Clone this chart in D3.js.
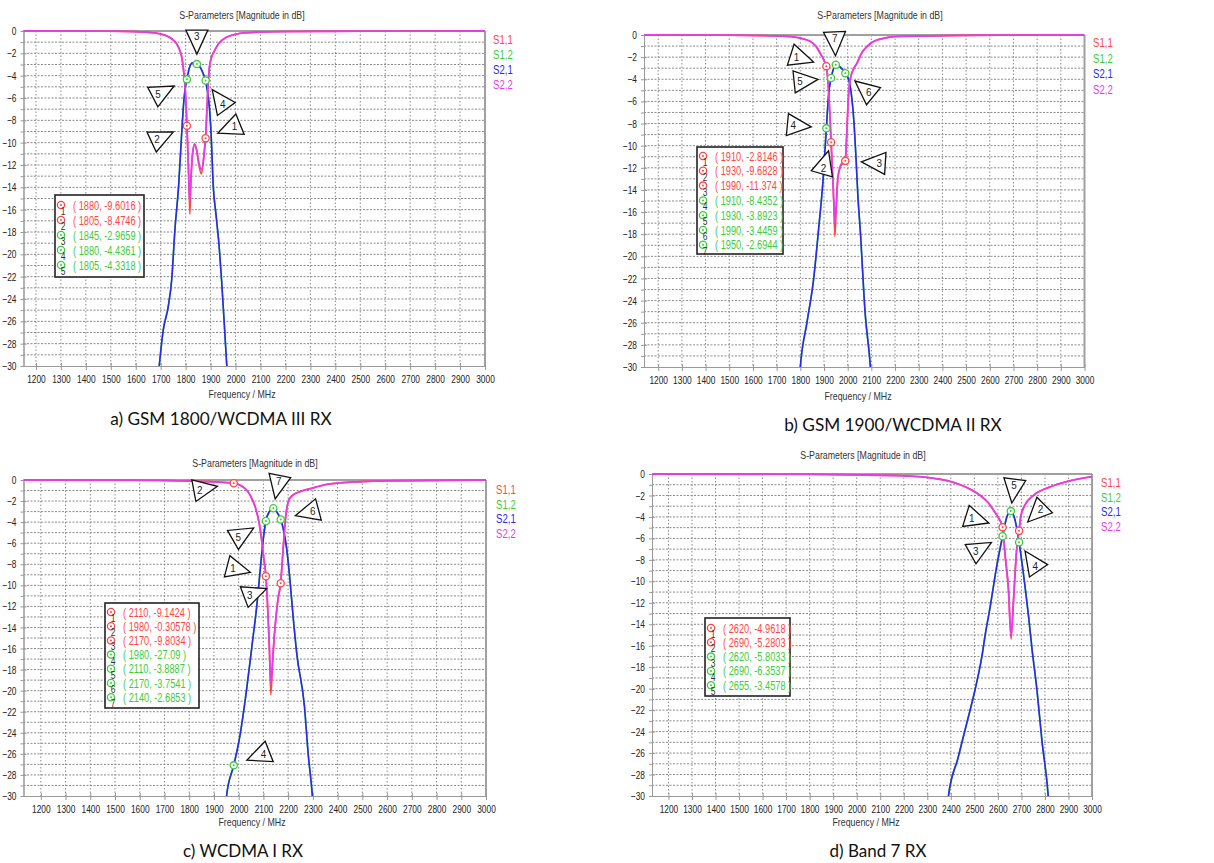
<!DOCTYPE html>
<html>
<head>
<meta charset="utf-8">
<script src="https://cdn.jsdelivr.net/npm/d3@7"></script>
<style>
  body { margin: 0; background: #fff; }
</style>
</head>
<body>
<div id="chart"></div>
<script>
const WIDTH = 1214;
const HEIGHT = 863;

// ---- shared axes / series
const xTickValues = [1200, 1300, 1400, 1500, 1600, 1700, 1800, 1900, 2000, 2100, 2200, 2300, 2400, 2500, 2600, 2700, 2800, 2900, 3000];
const yTickValues = [0, -2, -4, -6, -8, -10, -12, -14, -16, -18, -20, -22, -24, -26, -28, -30];
const seriesNames = ['S1,1', 'S1,2', 'S2,1', 'S2,2'];
const seriesColors = ['#ff4646', '#3ccc3c', '#2828f0', '#e63ce6'];
const captions = ['a) GSM 1800/WCDMA III RX', 'b) GSM 1900/WCDMA II RX', 'c) WCDMA I RX', 'd) Band 7 RX'];

// ---- a) GSM 1800/WCDMA III RX  [MHz, dB]
const aS21 = [[1640, -45], [1694, -30], [1710, -26.8], [1730, -24.7], [1744, -22.3], [1757, -17.8], [1772, -13.8], [1784, -9.2], [1793, -6.2], [1800, -4.9], [1805, -4.33], [1815, -3.3], [1828, -2.85], [1845, -2.97], [1860, -3.3], [1870, -3.8], [1880, -4.44], [1888, -5.5], [1895, -6.8], [1902, -9.2], [1911, -14], [1922, -16.5], [1935, -19.5], [1944, -22.3], [1954, -25.9], [1965, -30], [1990, -40]];
const aS12 = aS21; // reciprocal, hidden under S2,1
const aS11 = [[1130, 0], [1500, -0.02], [1600, -0.06], [1650, -0.12], [1697, -0.25], [1730, -0.5], [1750, -0.8], [1764, -1.15], [1776, -1.7], [1784, -2.3], [1790, -3.2], [1796, -4.5], [1801, -6.3], [1805, -8.47], [1810, -11.5], [1814, -14.5], [1817, -16.4], [1821, -13.5], [1828, -11], [1836, -10.15], [1844, -10.7], [1853, -12], [1863, -12.8], [1871, -11.7], [1876, -10.6], [1880, -9.6], [1885, -7.2], [1890, -4.8], [1895, -3.3], [1903, -2.4], [1915, -1.8], [1930, -1.2], [1950, -0.75], [1990, -0.35], [2050, -0.15], [2200, -0.05], [2500, -0.02], [3000, 0]];
const aS22 = [[1130, 0], [1500, -0.02], [1600, -0.06], [1650, -0.12], [1697, -0.25], [1730, -0.5], [1750, -0.8], [1764, -1.15], [1776, -1.7], [1784, -2.3], [1790, -3.2], [1796, -4.5], [1801, -6.3], [1805, -8.4], [1810, -11.4], [1814, -14.2], [1817, -15.2], [1821, -13.3], [1828, -10.9], [1836, -10.1], [1844, -10.6], [1853, -11.8], [1863, -12.4], [1871, -11.6], [1876, -10.5], [1880, -9.55], [1885, -7.2], [1890, -4.8], [1895, -3.3], [1903, -2.4], [1915, -1.8], [1930, -1.2], [1950, -0.75], [1990, -0.35], [2050, -0.15], [2200, -0.05], [2500, -0.02], [3000, 0]];
const aMarkers = [[1880, -9.6016, 0], [1805, -8.4746, 0], [1845, -2.9659, 1], [1880, -4.4361, 1], [1805, -4.3318, 1]];

// ---- b) GSM 1900/WCDMA II RX
const bS21 = [[1770, -42], [1800, -30], [1828, -26], [1856, -22.1], [1877, -17.6], [1896, -13.1], [1903, -10.8], [1910, -8.44], [1920, -5.3], [1930, -3.89], [1941, -3.0], [1950, -2.69], [1969, -2.9], [1990, -3.45], [2004, -4.0], [2018, -5.8], [2027, -8], [2035, -11], [2043, -14.5], [2053, -17.6], [2074, -25.2], [2096, -30], [2120, -40]];
const bS12 = bS21;
const bS11 = [[1130, 0], [1500, -0.02], [1700, -0.08], [1780, -0.2], [1813, -0.35], [1840, -0.55], [1856, -0.8], [1872, -1.2], [1884, -1.65], [1896, -2.1], [1906, -2.6], [1910, -2.81], [1916, -4], [1924, -6.8], [1930, -9.68], [1936, -12.5], [1941, -15], [1946, -18.2], [1951, -16], [1958, -13.1], [1964, -12.3], [1972, -11.8], [1980, -11.6], [1990, -11.37], [1995, -9.5], [2000, -7], [2005, -5], [2011, -4], [2022, -3.2], [2039, -2.56], [2060, -1.6], [2081, -1.05], [2124, -0.45], [2222, -0.12], [2500, -0.03], [3000, 0]];
const bS22 = [[1130, 0], [1500, -0.02], [1700, -0.08], [1780, -0.2], [1813, -0.35], [1840, -0.55], [1856, -0.8], [1872, -1.2], [1884, -1.65], [1896, -2.1], [1906, -2.6], [1910, -2.8], [1916, -4], [1924, -6.8], [1930, -9.6], [1936, -12.4], [1941, -14.8], [1946, -17], [1951, -15.6], [1958, -13], [1964, -12.2], [1972, -11.7], [1980, -11.5], [1990, -11.3], [1995, -9.5], [2000, -7], [2005, -5], [2011, -4], [2022, -3.2], [2039, -2.56], [2060, -1.6], [2081, -1.05], [2124, -0.45], [2222, -0.12], [2500, -0.03], [3000, 0]];
const bMarkers = [[1910, -2.8146, 0], [1930, -9.6828, 0], [1990, -11.374, 0], [1910, -8.4352, 1], [1930, -3.8923, 1], [1990, -3.4459, 1], [1950, -2.6944, 1]];

// ---- c) WCDMA I RX
const cS21 = [[1920, -42], [1951, -30], [1980, -27.09], [2002, -24.7], [2032, -19.9], [2055, -15.5], [2073, -12], [2086, -8.8], [2099, -5.7], [2110, -3.89], [2124, -3.0], [2140, -2.69], [2153, -3.0], [2170, -3.75], [2180, -4.6], [2194, -6.5], [2207, -9.4], [2221, -13.2], [2235, -16.5], [2266, -21.5], [2281, -26], [2298, -30], [2320, -40]];
const cS12 = cS21;
const cS11 = [[1130, 0], [1600, -0.03], [1800, -0.1], [1900, -0.18], [1980, -0.31], [2010, -0.55], [2032, -0.95], [2050, -1.6], [2066, -2.5], [2083, -4.1], [2093, -5.7], [2102, -7.5], [2110, -9.14], [2118, -12.5], [2124, -16], [2130, -20.4], [2137, -17.5], [2143, -15.2], [2150, -13.3], [2160, -11.2], [2170, -9.8], [2177, -7.5], [2183, -5.5], [2190, -3.5], [2196, -2.5], [2205, -1.8], [2221, -1.4], [2248, -1.1], [2300, -0.75], [2350, -0.45], [2420, -0.25], [2600, -0.08], [3000, 0]];
const cS22 = [[1130, 0], [1600, -0.03], [1800, -0.1], [1900, -0.18], [1980, -0.3], [2010, -0.55], [2032, -0.95], [2050, -1.6], [2066, -2.5], [2083, -4.1], [2093, -5.7], [2102, -7.5], [2110, -9.1], [2118, -12.4], [2124, -15.8], [2130, -19.3], [2137, -17.2], [2143, -15.1], [2150, -13.2], [2160, -11.1], [2170, -9.75], [2177, -7.5], [2183, -5.5], [2190, -3.5], [2196, -2.5], [2205, -1.8], [2221, -1.4], [2248, -1.1], [2300, -0.75], [2350, -0.45], [2420, -0.25], [2600, -0.08], [3000, 0]];
const cMarkers = [[2110, -9.1424, 0], [1980, -0.30578, 0], [2170, -9.8034, 0], [1980, -27.09, 1], [2110, -3.8887, 1], [2170, -3.7541, 1], [2140, -2.6853, 1]];

// ---- d) Band 7 RX
const dS21 = [[2350, -42], [2390, -30], [2430, -26.5], [2468, -23.2], [2503, -20.1], [2532, -17], [2546, -15], [2567, -12.4], [2595, -8.6], [2620, -5.80], [2638, -4.0], [2655, -3.46], [2673, -4.3], [2690, -6.35], [2708, -9.2], [2730, -13.2], [2745, -16.3], [2766, -20.1], [2787, -24.8], [2814, -30], [2840, -40]];
const dS12 = dS21;
const dS11 = [[1130, 0], [1800, -0.03], [2000, -0.08], [2185, -0.16], [2327, -0.4], [2400, -0.7], [2440, -1.0], [2490, -1.5], [2525, -2.0], [2560, -2.7], [2581, -3.35], [2600, -4.0], [2620, -4.96], [2631, -7.7], [2645, -10.8], [2656, -15.4], [2666, -12], [2680, -7], [2690, -5.28], [2697, -4.0], [2716, -2.85], [2751, -2.0], [2822, -1.2], [2893, -0.7], [3000, -0.25]];
const dS22 = [[1130, 0], [1800, -0.03], [2000, -0.08], [2185, -0.16], [2327, -0.4], [2400, -0.7], [2440, -1.0], [2490, -1.5], [2525, -2.0], [2560, -2.7], [2581, -3.35], [2600, -4.0], [2620, -4.95], [2631, -7.6], [2645, -10.7], [2656, -15.1], [2666, -11.9], [2680, -7], [2690, -5.27], [2697, -4.0], [2716, -2.85], [2751, -2.0], [2822, -1.2], [2893, -0.7], [3000, -0.25]];
const dMarkers = [[2620, -4.9618, 0], [2690, -5.2803, 0], [2620, -5.8033, 1], [2690, -6.3537, 1], [2655, -3.4578, 1]];

// callout triangles: [marker number, dx, dy] offset of the triangle from its marker (px)
const aCallouts = [[3, 0, -26], [5, -27, 14], [4, 16, 22], [1, 27, -11], [2, -28, 13]];
const bCallouts = [[1, -28, -9], [5, -29, 3], [6, 22, 18], [7, -1, -25], [4, -31, -3], [2, -7, 24], [3, 32, 2]];
const cCallouts = [[2, -32, 6], [7, 5, -25], [6, 30, -8], [5, -26, 15], [1, -31, -8], [3, -29, 11], [4, 28, -11]];
const dCallouts = [[1, -29, -9], [5, 3, -24], [2, 20, -20], [3, -25, 14], [4, 15, 22]];

// layout of the four screenshots
const panels = [
    { f0: 1150, box: [23.5, 31, 485, 366], series: [aS11, aS12, aS21, aS22], markers: aMarkers, callouts: aCallouts,
      title: [242, 19], xlab: [242, 398], cap: [221, 425, 17.2], leg: [493, 44, 15], table: [55, 195, 144, 277, 205, 15] },
    { f0: 1140, box: [644, 35, 1084.5, 367], series: [bS11, bS12, bS21, bS22], markers: bMarkers, callouts: bCallouts,
      title: [880, 19], xlab: [858, 400], cap: [893, 431, 17.2], leg: [1093, 47, 15.5], table: [697, 147, 783, 254, 156, 14.8] },
    { f0: 1130, box: [23.5, 480, 486, 796], series: [cS11, cS12, cS21, cS22], markers: cMarkers, callouts: cCallouts,
      title: [255, 467], xlab: [252, 826], cap: [243, 857, 17], leg: [496, 494, 14.5], table: [105, 603, 199, 708, 612, 14.2] },
    { f0: 1130, box: [652, 474, 1092, 796], series: [dS11, dS12, dS21, dS22], markers: dMarkers, callouts: dCallouts,
      title: [863, 459], xlab: [866, 826], cap: [878, 857, 17], leg: [1101, 487, 14.7], table: [705, 618, 790, 696, 628, 14.3] },
];

const SX = 0.76; // the source font is narrow
const FONT = '"Liberation Sans", Arial, sans-serif';

const svg = d3.select('#chart')
    .append('svg')
    .attr('width', WIDTH)
    .attr('height', HEIGHT);

function label(g, x, y, s, size, fill, anchor, sx) {
    return g.append('text')
        .attr('transform', `translate(${x},${y}) scale(${sx || SX},1)`)
        .attr('text-anchor', anchor || 'start')
        .attr('font-family', FONT)
        .attr('font-size', size)
        .attr('fill', fill)
        .text(s);
}

function marker(g, cx, cy, color) {
    g.append('circle').attr('cx', cx).attr('cy', cy).attr('r', 3.6)
        .attr('fill', '#fff').attr('stroke', color).attr('stroke-width', 1.3);
    g.append('circle').attr('cx', cx).attr('cy', cy).attr('r', 1)
        .attr('fill', color);
}

panels.forEach((p, pi) => {
    const [left, top, right, bottom] = p.box;
    const g = svg.append('g');

    const xScale = d3.scaleLinear().domain([p.f0, 3000]).range([left, right]);
    const yScale = d3.scaleLinear().domain([0, -30]).range([top, bottom]);

    // Grid
    g.selectAll('.hgrid')
        .data(d3.range(-1, -30, -1))
        .enter()
        .append('line')
        .attr('x1', left).attr('x2', right)
        .attr('y1', d => yScale(d)).attr('y2', d => yScale(d))
        .attr('stroke', '#8a8a8a').attr('stroke-dasharray', '2,1.5');
    g.selectAll('.vgrid')
        .data(xTickValues.slice(0, -1))
        .enter()
        .append('line')
        .attr('x1', d => xScale(d)).attr('x2', d => xScale(d))
        .attr('y1', top).attr('y2', bottom)
        .attr('stroke', '#8a8a8a').attr('stroke-dasharray', '1.5,2');

    // Frame: top and right in grey
    g.append('line').attr('x1', left).attr('x2', right).attr('y1', top).attr('y2', top)
        .attr('stroke', '#a0a0a0').attr('stroke-width', 2);
    g.append('line').attr('x1', right).attr('x2', right).attr('y1', top).attr('y2', bottom)
        .attr('stroke', '#a0a0a0').attr('stroke-width', 2);

    // Axes
    const xAxis = g.append('g')
        .attr('transform', `translate(0,${bottom})`)
        .call(d3.axisBottom(xScale).tickValues(xTickValues).tickFormat(d3.format('d'))
            .tickSize(4).tickPadding(5).tickSizeOuter(0));
    const yAxis = g.append('g')
        .attr('transform', `translate(${left},0)`)
        .call(d3.axisLeft(yScale).tickValues(yTickValues).tickFormat(d3.format('d'))
            .tickSize(3).tickPadding(4).tickSizeOuter(0));
    g.append('g')
        .attr('transform', `translate(${left},0)`)
        .call(d3.axisLeft(yScale).tickValues(d3.range(-1, -30, -2)).tickSize(3).tickFormat('').tickSizeOuter(0));
    g.selectAll('.domain, .tick line').attr('stroke', '#999');
    xAxis.selectAll('.tick line').attr('y1', -3);
    yAxis.selectAll('.tick line').attr('x2', 3).attr('x1', -3);
    xAxis.selectAll('text')
        .attr('font-size', 11).attr('fill', '#222').attr('font-family', FONT)
        .attr('transform', `scale(${SX},1)`);
    yAxis.selectAll('text')
        .attr('font-size', 11).attr('fill', '#222').attr('font-family', FONT)
        .attr('x', -7 / SX)
        .attr('transform', `scale(${SX},1)`);

    // Curves
    const clipId = 'clip' + pi;
    g.append('clipPath').attr('id', clipId)
        .append('rect').attr('x', left).attr('y', top - 2).attr('width', right - left).attr('height', bottom - top + 2);
    const line = d3.line()
        .x(d => xScale(d[0]))
        .y(d => yScale(d[1]))
        .curve(d3.curveMonotoneX);
    const curves = g.append('g').attr('clip-path', `url(#${clipId})`);
    [0, 1, 2, 3].forEach(si => {
        curves.append('path')
            .datum(p.series[si])
            .attr('d', line)
            .attr('fill', 'none')
            .attr('stroke', seriesColors[si])
            .attr('stroke-width', si === 3 ? 1.8 : 1.6);
    });

    // Markers on the curves
    const markerColor = [seriesColors[0], seriesColors[1]];
    p.markers.forEach(m => marker(g, xScale(m[0]), yScale(m[1]), markerColor[m[2]]));

    // Callout triangles
    p.callouts.forEach(c => {
        const m = p.markers[c[0] - 1];
        const mx = xScale(m[0]), my = yScale(m[1]);
        const cx = mx + c[1], cy = my + c[2];
        const len = Math.hypot(c[1], c[2]);
        const ux = -c[1] / len, uy = -c[2] / len;
        const nx = -uy, ny = ux;
        const pts = [
            [cx + ux * 16, cy + uy * 16],
            [cx - ux * 8 + nx * 11, cy - uy * 8 + ny * 11],
            [cx - ux * 8 - nx * 11, cy - uy * 8 - ny * 11],
        ];
        g.append('polygon')
            .attr('points', pts.map(q => q.join(',')).join(' '))
            .attr('fill', '#fff').attr('stroke', '#111').attr('stroke-width', 1.3);
        label(g, cx - ux * 2, cy - uy * 2 + 4, String(c[0]), 11, '#222', 'middle', 0.9);
    });

    // Marker table
    const [tx0, ty0, tx1, ty1, row0, rowStep] = p.table;
    g.append('rect').attr('x', tx0).attr('y', ty0).attr('width', tx1 - tx0).attr('height', ty1 - ty0)
        .attr('fill', '#fff').attr('stroke', '#222').attr('stroke-width', 1.6);
    p.markers.forEach((m, i) => {
        const ry = row0 + i * rowStep;
        const col = markerColor[m[2]];
        marker(g, tx0 + 6, ry, col);
        label(g, tx0 + 8, ry + 10, String(i + 1), 10, '#333', 'middle', 0.85);
        label(g, tx0 + 18, ry + 4.5, `( ${m[0]}, ${m[1]} )`, 12, col, 'start', 0.77);
    });

    // Series legend
    const [lx, ly, lstep] = p.leg;
    seriesNames.forEach((s, i) => {
        label(g, lx, ly + i * lstep, s, 12, seriesColors[i], 'start', 0.8);
    });

    // Titles
    label(g, p.title[0], p.title[1], 'S-Parameters [Magnitude in dB]', 10.5, '#333', 'middle', 0.84);
    label(g, p.xlab[0], p.xlab[1], 'Frequency / MHz', 10.5, '#333', 'middle', 0.84);
    g.append('text')
        .attr('x', p.cap[0]).attr('y', p.cap[1])
        .attr('text-anchor', 'middle')
        .style('font-family', 'Lato, "Open Sans", sans-serif')
        .attr('font-size', p.cap[2])
        .attr('fill', '#111')
        .text(captions[pi]);
});
</script>
</body>
</html>
